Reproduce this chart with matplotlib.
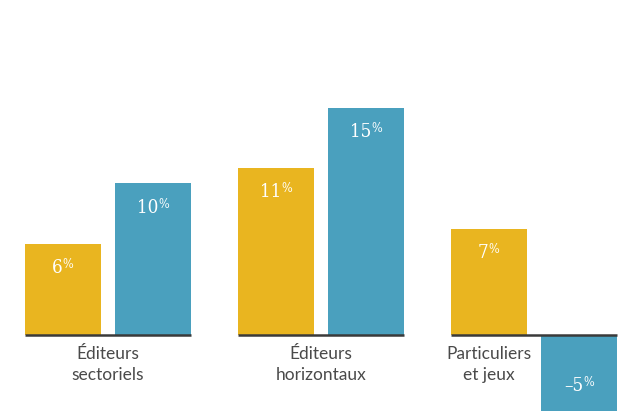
import numpy as np
import matplotlib.pyplot as plt

# data
categories = ["Éditeurs\nsectoriels", "Éditeurs\nhorizontaux", "Particuliers\net jeux"]
serie_a = [6, 11, 7]
serie_b = [10, 15, -5]

yellow = "#E9B520"
blue = "#4AA0BE"

fig = plt.figure(figsize=(6.35, 4.13), dpi=100)
ax = fig.add_axes([0, 0, 1, 1])

x = np.arange(len(categories))
off = 0.2125
width = 0.357
bars_a = ax.bar(x - off, serie_a, width, color=yellow, zorder=2)
bars_b = ax.bar(x + off, serie_b, width, color=blue, zorder=2)

ax.set_xlim(-0.507, 2.474)
ax.set_ylim(-5.15, 22.1)
ax.axis("off")

# baseline under each group
for i in range(len(categories)):
    ax.hlines(0, x[i] - off - width / 2, x[i] + off + width / 2,
              color="#3a3a3a", lw=1.8, zorder=3)

# category labels
for i, cat in enumerate(categories):
    xc = x[i]
    if serie_b[i] < 0:
        xc = x[i] - off
    ax.text(xc, -0.7, cat, ha="center", va="top", fontsize=12.5,
            family="Lato", color="#4a4a4a", linespacing=1.45)

# value labels
num_font = dict(family="DejaVu Serif", fontstretch="condensed", color="white")
fig.canvas.draw()
r = fig.canvas.get_renderer()
for bars, vals in [(bars_a, serie_a), (bars_b, serie_b)]:
    for b, v in zip(bars, vals):
        cx = b.get_x() + b.get_width() / 2
        yv = v - 1.6 if v > 0 else v + 1.6
        s = str(v).replace("-", "–")
        t = ax.text(cx, yv, s, ha="center", va="center", fontsize=13.5, **num_font)
        p = ax.text(cx, yv, "%", ha="left", va="center", fontsize=9, **num_font)
        tw = t.get_window_extent(r).width
        pw = p.get_window_extent(r).width
        shift = pw / 2
        tr = ax.transData
        px, py = tr.transform((cx, yv))
        nx = tr.inverted().transform((px - shift, py))[0]
        t.set_x(nx)
        ex = tr.inverted().transform((px - shift + tw / 2, py + 3.5))
        p.set_position(ex)

fig.savefig("out.png", dpi=100)
